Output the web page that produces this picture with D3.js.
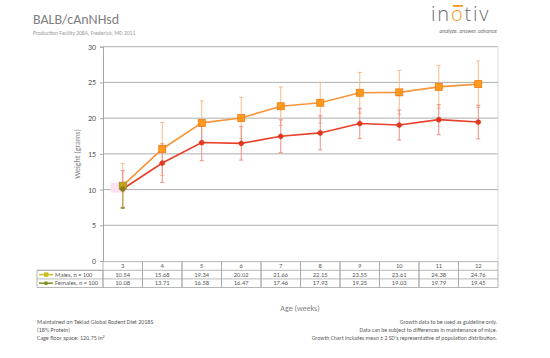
<!DOCTYPE html>
<html><head><meta charset="utf-8">
<script src="https://cdn.jsdelivr.net/npm/d3@7"></script>
<style>body{margin:0;background:#fff}svg{display:block;font-family:Calibri,"Liberation Sans Narrow","Open Sans",sans-serif}</style>
</head><body><svg id="c" width="550" height="358"></svg>
<script>
const weeks = ["3","4","5","6","7","8","9","10","11","12"];
const males = [10.54,15.68,19.34,20.02,21.66,22.15,23.55,23.61,24.38,24.76];
const females = [10.08,13.71,16.58,16.47,17.46,17.93,19.25,19.03,19.79,19.45];
const maleSD = [1.56,1.86,1.53,1.45,1.35,1.43,1.43,1.54,1.50,1.62];
const femaleSD = [1.28,1.35,1.27,1.17,1.15,1.19,1.06,1.05,1.05,1.18];
const yTicks = [0,5,10,15,20,25,30];
const seriesNames = ["Males, n = 100","Females, n = 100"];

const svg = d3.select("#c");
const L=103,R=498,T=46.7,B=261;
const x = d3.scaleBand().domain(weeks).range([L,R]);
const y = d3.scaleLinear().domain([0,30]).range([B,T]);
const grey="#7f7f7f", txt="#595959";

// title
svg.append("text").attr("x",33).attr("y",24).attr("font-size",14).attr("fill",grey).text("BALB/cAnNHsd");
svg.append("text").attr("x",33).attr("y",35).attr("font-size",5.6).attr("fill","#999").text("Production Facility 208A, Frederick, MD 2011");

// logo
const lg = svg.append("text").attr("x",431).attr("y",21).attr("font-size",20).attr("font-weight",300).attr("font-family","'Open Sans',sans-serif").attr("letter-spacing",1.8);
lg.append("tspan").attr("fill","#6d6e71").text("in");
lg.append("tspan").attr("fill","#f7941d").text("o");
lg.append("tspan").attr("fill","#6d6e71").text("tiv");
svg.append("rect").attr("x",453).attr("y",5).attr("width",10).attr("height",1.8).attr("fill","#f7941d");
svg.append("text").attr("x",497).attr("y",32.5).attr("text-anchor","end").attr("font-size",5.6).attr("font-style","italic").attr("fill","#6d6e71").text("analyze. answer. advance");

// gridlines
svg.append("g").selectAll("line").data(yTicks.filter(d=>d>0)).join("line")
 .attr("x1",L).attr("x2",R).attr("y1",d=>y(d)).attr("y2",d=>y(d)).attr("stroke","#a6a6a6").attr("stroke-width",0.9);
svg.append("line").attr("x1",R).attr("x2",R).attr("y1",T).attr("y2",B).attr("stroke","#d9d9d9");

// y axis
const ya = svg.append("g").attr("transform",`translate(${L},0)`).call(d3.axisLeft(y).tickValues(yTicks).tickSize(3).tickPadding(4));
ya.select(".domain").attr("stroke","#a6a6a6");
ya.selectAll(".tick line").attr("stroke","#a6a6a6");
ya.selectAll("text").attr("font-size",8).attr("fill",txt).attr("font-family","Calibri,'Liberation Sans Narrow',sans-serif");
svg.append("text").attr("transform","translate(80,154) rotate(-90)").attr("text-anchor","middle").attr("font-size",8).attr("fill",grey).text("Weight (grams)");

// highlight at week 3
svg.append("rect").attr("x",x("3")+x.bandwidth()/2-12).attr("y",y(10.54)-3).attr("width",15).attr("height",10).attr("fill","#fbe3f1");

const cx = w => x(w)+x.bandwidth()/2;
function errBars(vals,sds,col){
  const g=svg.append("g");
  weeks.forEach((w,i)=>{
    const hi=y(vals[i]+2*sds[i]), lo=y(vals[i]-2*sds[i]), X=cx(w);
    g.append("line").attr("x1",X).attr("x2",X).attr("y1",hi).attr("y2",lo).attr("stroke",col).attr("stroke-width",1);
    [hi,lo].forEach(v=>g.append("line").attr("x1",X-2).attr("x2",X+2).attr("y1",v).attr("y2",v).attr("stroke",col).attr("stroke-width",1));
  });
}
errBars(males,maleSD,"#f6b98a");
errBars(females,femaleSD,"#ec8f82");
// olive lower whisker at week 3
svg.append("line").attr("x1",cx("3")).attr("x2",cx("3")).attr("y1",y(10.08)).attr("y2",y(10.54-2*maleSD[0])).attr("stroke","#b5a95a").attr("stroke-width",1);
svg.append("line").attr("x1",cx("3")-2).attr("x2",cx("3")+2).attr("y1",y(10.54-2*maleSD[0])).attr("y2",y(10.54-2*maleSD[0])).attr("stroke","#8c8a2a").attr("stroke-width",1.5);

const line = d3.line().x((d,i)=>cx(weeks[i])).y(d=>y(d));
svg.append("path").datum(males).attr("d",line).attr("fill","none").attr("stroke","#f7963c").attr("stroke-width",1.6);
svg.append("path").datum(females).attr("d",line).attr("fill","none").attr("stroke","#e8402a").attr("stroke-width",1.6);

svg.append("g").selectAll("rect").data(males).join("rect")
 .attr("x",(d,i)=>cx(weeks[i])-3.5).attr("y",d=>y(d)-3.5).attr("width",7).attr("height",7)
 .attr("fill",(d,i)=>i===0?"#c9a21a":"#ff9a1e").attr("stroke",(d,i)=>i===0?"#a08a20":"#f07a10").attr("stroke-width",0.8);
const fg = svg.append("g");
females.forEach((d,i)=>{
  const X=cx(weeks[i]), Y=y(d), c=i===0?"#8a7d1e":"#e23a22";
  fg.append("circle").attr("cx",X).attr("cy",Y).attr("r",2.6).attr("fill",c);
  fg.append("line").attr("x1",X-3).attr("x2",X+3).attr("y1",Y).attr("y2",Y).attr("stroke",c).attr("stroke-width",0.8);
  fg.append("line").attr("x1",X).attr("x2",X).attr("y1",Y-3).attr("y2",Y+3).attr("stroke",c).attr("stroke-width",0.8);
});

// data table
const rowH=8.6, t0=B+0.7;
const tg = svg.append("g");
const border="#a6a6a6";
weeks.forEach(w=>{
  tg.append("rect").attr("x",x(w)).attr("y",t0).attr("width",x.bandwidth()).attr("height",rowH*3).attr("fill","none").attr("stroke",border).attr("stroke-width",0.8);
  tg.append("text").attr("x",cx(w)).attr("y",t0+rowH-2.2).attr("text-anchor","middle").attr("font-size",6.5).attr("fill",txt).text(w);
});
[1,2].forEach(k=>tg.append("line").attr("x1",37).attr("x2",R).attr("y1",t0+rowH*k).attr("y2",t0+rowH*k).attr("stroke",border).attr("stroke-width",0.8));
tg.append("rect").attr("x",37).attr("y",t0+rowH).attr("width",L-37).attr("height",rowH*2).attr("fill","none").attr("stroke",border).attr("stroke-width",0.8);
[males,females].forEach((vals,r)=>{
  const ry=t0+rowH*(r+1);
  weeks.forEach((w,i)=>tg.append("text").attr("x",cx(w)).attr("y",ry+rowH-2.2).attr("text-anchor","middle").attr("font-size",6.5).attr("fill",txt).text(vals[i].toFixed(2)));
  const kc = r===0?"#c8c020":"#7f8f20";
  tg.append("line").attr("x1",39).attr("x2",53).attr("y1",ry+rowH/2).attr("y2",ry+rowH/2).attr("stroke",kc).attr("stroke-width",1.5);
  if(r===0) tg.append("rect").attr("x",44).attr("y",ry+rowH/2-2.2).attr("width",4.4).attr("height",4.4).attr("fill",kc);
  else tg.append("circle").attr("cx",46).attr("cy",ry+rowH/2).attr("r",2).attr("fill",kc);
  tg.append("text").attr("x",55).attr("y",ry+rowH-2.2).attr("font-size",6.3).attr("fill",txt).text(seriesNames[r]);
});

svg.append("text").attr("x",300).attr("y",311).attr("text-anchor","middle").attr("font-size",8).attr("fill",grey).text("Age (weeks)");

const fl = ["Maintained on Teklad Global Rodent Diet 2018S","(18% Protein)"];
fl.forEach((s,i)=>svg.append("text").attr("x",37).attr("y",324+i*8).attr("font-size",6).attr("fill",txt).text(s));
const c3 = svg.append("text").attr("x",37).attr("y",340).attr("font-size",6).attr("fill",txt).text("Cage floor space: 120.75 in");
c3.append("tspan").attr("dy",-2).attr("font-size",4).text("2");
const fr = ["Growth data to be used as guideline only.","Data can be subject to differences in maintenance of mice.","Growth Chart includes mean \u00B1 2 SD's representative of population distribution."];
fr.forEach((s,i)=>svg.append("text").attr("x",497).attr("y",324+i*8).attr("text-anchor","end").attr("font-size",5.8).attr("fill",txt).text(s));
</script></body></html>
